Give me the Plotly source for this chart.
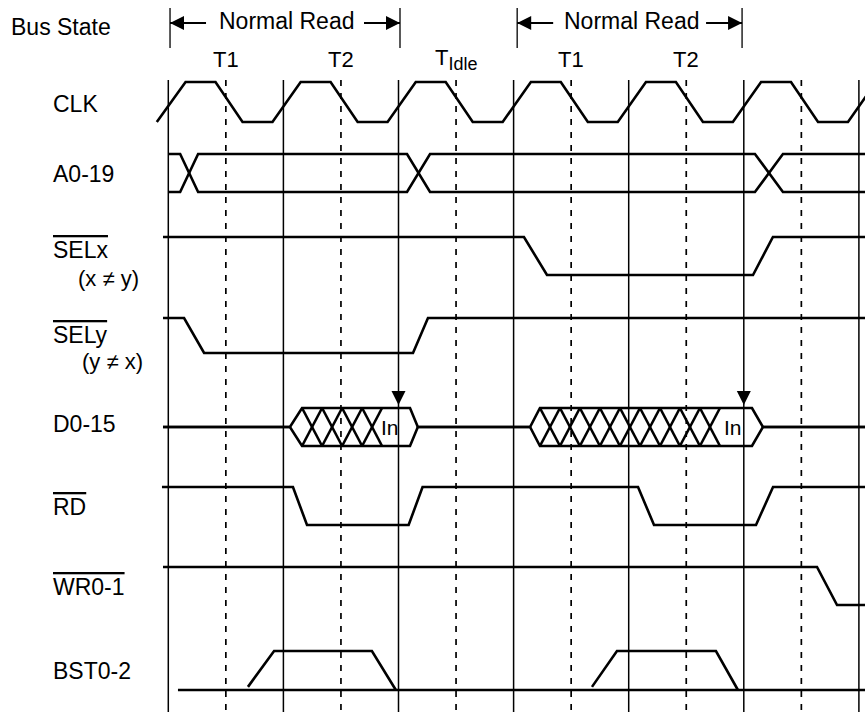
import plotly.graph_objects as go

# ---------------- data (time in clock periods, levels 0 = low, 1 = high) ----------------
clock_edges = [0, 1, 2, 3, 4, 5, 6]                      # solid reference lines
half_cycle_marks = [0.5, 1.5, 2.5, 3.5, 4.5, 5.5]        # dashed reference lines

bus_state_spans = [[0.015, 2.013], [3.031, 4.985]]
bus_state_labels = ["Normal Read", "Normal Read"]
cycle_label_times = [0.5, 1.5, 2.5, 3.5, 4.5]
cycle_labels = ["T1", "T2", "T<sub><span style=\"font-size:18px\">Idle</span></sub>", "T1", "T2"]

signal_names = ["CLK", "A0-19", "SELx", "SELy", "D0-15", "RD", "WR0-1", "BST0-2"]
signal_notes = {"SELx": "(x \u2260 y)", "SELy": "(y \u2260 x)"}
active_low = ["SELx", "SELy", "RD", "WR0-1"]

clk_t = [-0.10, 0.15, 0.41, 0.645, 0.905, 1.15, 1.41, 1.645, 1.905, 2.15, 2.41, 2.645,
         2.905, 3.15, 3.41, 3.645, 3.905, 4.15, 4.41, 4.645, 4.905, 5.15, 5.41, 5.645,
         5.905, 6.15]
clk_v = [0, 1, 1, 0, 0, 1, 1, 0, 0, 1, 1, 0, 0, 1, 1, 0, 0, 1, 1, 0, 0, 1, 1, 0, 0, 1]

addr_start = 0.0
addr_end = 6.1
addr_cross = [[0.103, 0.259], [2.074, 2.274], [5.097, 5.34]]

selx_t = [-0.046, 3.09, 3.29, 5.08, 5.253, 6.1]
selx_v = [1, 1, 0, 0, 1, 1]

sely_t = [-0.046, 0.137, 0.311, 2.126, 2.256, 6.1]
sely_v = [1, 1, 0, 0, 1, 1]

data_start = -0.046
data_end = 6.1
data_windows = [[1.057, 1.162, 2.10, 2.168], [3.143, 3.229, 5.071, 5.166]]
data_hatch = [[1.162, 1.336, 1.510, 1.684, 1.857],
              [3.229, 3.403, 3.576, 3.750, 3.924, 4.098, 4.272, 4.445, 4.619, 4.793]]
data_in_label_t = [1.926, 4.905]
data_in_label = ["In", "In"]
data_sample_t = [2, 5]

rd_t = [-0.055, 1.083, 1.205, 2.088, 2.209, 4.081, 4.22, 5.106, 5.254, 6.1]
rd_v = [1, 1, 0, 0, 1, 1, 0, 0, 1, 1]

wr_t = [-0.046, 5.636, 5.81, 6.1]
wr_v = [1, 1, 0, 0]

bst_base_t = [0.084, 6.1]
bst_pulses_t = [[0.692, 0.919, 1.769, 1.977], [3.681, 3.898, 4.758, 4.949]]
bst_pulse_v = [0.08, 1, 1, 0]

# ---------------- layout constants (pixel-like vertical units) ----------------
PX = 115.1                     # pixels per clock period
X_RANGE = [-168.3 / PX, (865 - 168.3) / PX]
row_lo = {"CLK": 122, "A0-19": 192, "SELx": 275, "SELy": 353,
          "D0-15": 446, "RD": 525, "WR0-1": 605, "BST0-2": 690}
row_hi = {"CLK": 82, "A0-19": 154, "SELx": 237, "SELy": 318,
          "D0-15": 408, "RD": 487, "WR0-1": 567, "BST0-2": 651}
label_y = {"CLK": 104, "A0-19": 174, "SELx": 250, "SELy": 335,
           "D0-15": 424, "RD": 507, "WR0-1": 587, "BST0-2": 671}
note_y = {"SELx": 278, "SELy": 361}
note_x = {"SELx": (76 - 168.3) / PX, "SELy": (80 - 168.3) / PX}
GRID_TOP, GRID_BOTTOM = 80, 720
BRACKET_TOP, BRACKET_BOTTOM, ARROW_Y = 8, 48, 23
LABEL_X = (51 - 168.3) / PX
FONT = "Arial, 'Liberation Sans', Helvetica, sans-serif"
SIG_W = 2.6
BLACK = "#000000"


def ylev(sig, v):
    return row_lo[sig] + (row_hi[sig] - row_lo[sig]) * v


fig = go.Figure()


def add_line(x, y, width=SIG_W, dash=None):
    fig.add_trace(go.Scatter(x=x, y=y, mode="lines", hoverinfo="skip",
                             line=dict(color=BLACK, width=width, dash=dash)))


# reference lines
xs, ys = [], []
for t in clock_edges:
    xs += [t, t, None]
    ys += [GRID_TOP, GRID_BOTTOM, None]
add_line(xs, ys, width=1.5)
xs, ys = [], []
for t in half_cycle_marks:
    xs += [t, t, None]
    ys += [GRID_TOP, GRID_BOTTOM, None]
add_line(xs, ys, width=1.7, dash="6px,7px")

# bus state brackets and arrows
xs, ys = [], []
for a, b in bus_state_spans:
    xs += [a, a, None, b, b, None]
    ys += [BRACKET_TOP, BRACKET_BOTTOM, None, BRACKET_TOP, BRACKET_BOTTOM, None]
add_line(xs, ys, width=1.3)
xs, ys = [], []
for a, b in bus_state_spans:
    xs += [a, a + 36 / PX, None, b - 36 / PX, b, None]
    ys += [ARROW_Y, ARROW_Y, None, ARROW_Y, ARROW_Y, None]
add_line(xs, ys, width=1.8)
fig.add_trace(go.Scatter(
    x=[s[0] for s in bus_state_spans] + [s[1] for s in bus_state_spans],
    y=[ARROW_Y] * (2 * len(bus_state_spans)), mode="markers", hoverinfo="skip",
    marker=dict(symbol=["arrow-left"] * len(bus_state_spans) + ["arrow-right"] * len(bus_state_spans),
                size=14, color=BLACK, line=dict(width=0))))

# CLK
add_line(clk_t, [ylev("CLK", v) for v in clk_v])

# A0-19 bus (two crossing lines)
la_t, la_v, lb_v = [addr_start], [1], [0]
state = 1
for c0, c1 in addr_cross:
    la_t += [c0, c1]
    la_v += [state, 1 - state]
    lb_v += [1 - state, state]
    state = 1 - state
la_t.append(addr_end)
la_v.append(state)
lb_v.append(1 - state)
add_line(la_t, [ylev("A0-19", v) for v in la_v])
add_line(la_t, [ylev("A0-19", v) for v in lb_v])

# SELx, SELy, RD, WR0-1
add_line(selx_t, [ylev("SELx", v) for v in selx_v])
add_line(sely_t, [ylev("SELy", v) for v in sely_v])
add_line(rd_t, [ylev("RD", v) for v in rd_v])
add_line(wr_t, [ylev("WR0-1", v) for v in wr_v])

# D0-15 data bus
top_t, top_v, bot_v = [data_start], [0.5], [0.5]
for p0, p1, p2, p3 in data_windows:
    top_t += [p0, p1, p2, p3]
    top_v += [0.5, 1, 1, 0.5]
    bot_v += [0.5, 0, 0, 0.5]
top_t.append(data_end)
top_v.append(0.5)
bot_v.append(0.5)
add_line(top_t, [ylev("D0-15", v) for v in top_v])
add_line(top_t, [ylev("D0-15", v) for v in bot_v])
xs, ys = [], []
for edges in data_hatch:
    for e0, e1 in zip(edges[:-1], edges[1:]):
        xs += [e0, e1, None, e0, e1, None]
        ys += [ylev("D0-15", 1), ylev("D0-15", 0), None, ylev("D0-15", 0), ylev("D0-15", 1), None]
add_line(xs, ys)
fig.add_trace(go.Scatter(x=data_sample_t, y=[ylev("D0-15", 1) - 3] * len(data_sample_t),
                         mode="markers", hoverinfo="skip",
                         marker=dict(symbol="arrow-down", size=14, color=BLACK, line=dict(width=0))))

# BST0-2
add_line(bst_base_t, [ylev("BST0-2", 0)] * len(bst_base_t))
for pt in bst_pulses_t:
    add_line(pt, [ylev("BST0-2", v) for v in bst_pulse_v])

# ---------------- text ----------------
ann = []
ann.append(dict(x=(9 - 168.3) / PX, y=27, text="Bus State", xanchor="left", yanchor="middle",
                showarrow=False, font=dict(size=23)))
for (a, b), lab in zip(bus_state_spans, bus_state_labels):
    ann.append(dict(x=(a + b) / 2 + 2 / PX, y=21, text=lab, xanchor="center", yanchor="middle",
                    showarrow=False, font=dict(size=23)))
for t, lab in zip(cycle_label_times, cycle_labels):
    ann.append(dict(x=t, y=59, text=lab, xanchor="center", yanchor="middle",
                    showarrow=False, font=dict(size=22)))
for name in signal_names:
    txt = name
    if name in active_low:
        txt = '<span style="text-decoration:overline">' + name + '</span>'
    ann.append(dict(x=LABEL_X, y=label_y[name], text=txt, xanchor="left", yanchor="middle",
                    showarrow=False, font=dict(size=23)))
for name, note in signal_notes.items():
    ann.append(dict(x=note_x[name], y=note_y[name], text=note, xanchor="left", yanchor="middle",
                    showarrow=False, font=dict(size=22)))
for t, lab in zip(data_in_label_t, data_in_label):
    ann.append(dict(x=t, y=ylev("D0-15", 0.5), text=lab, xanchor="center", yanchor="middle",
                    showarrow=False, font=dict(size=21)))

fig.update_layout(
    width=865, height=712, autosize=False,
    margin=dict(l=0, r=0, t=0, b=0, pad=0),
    paper_bgcolor="white", plot_bgcolor="white",
    showlegend=False,
    font=dict(family=FONT, color=BLACK),
    xaxis=dict(range=X_RANGE, visible=False, showgrid=False, zeroline=False, fixedrange=True),
    yaxis=dict(range=[712, 0], visible=False, showgrid=False, zeroline=False, fixedrange=True),
    annotations=ann,
)

fig.write_html("out.html", config={"displayModeBar": False},
               post_script="document.body.style.margin='0';")
